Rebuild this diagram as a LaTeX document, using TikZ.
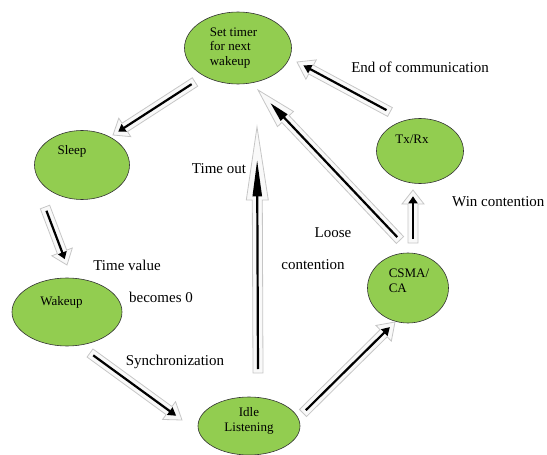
\documentclass[tikz,border=0pt]{standalone}
\usepackage{fontspec}
\setmainfont{Liberation Serif}
\usepackage{tikz}
\usetikzlibrary{shapes.geometric,arrows.meta,calc}
\definecolor{stategreen}{RGB}{146,205,80}
\newcommand{\statefont}{\fontsize{13}{14.5}\selectfont}
\newcommand{\notefont}{\fontsize{15}{18}\selectfont}
% hollow block arrow with a black arrow inside, #1 = head length
\newcommand{\blockarrow}[3][14]{%
  \coordinate (bs) at (#2);
  \coordinate (be) at (#3);
  \coordinate (hb) at ($(be)!#1pt!(bs)$);
  \filldraw[blockbody] ($(bs)!5pt!90:(be)$) -- ($(hb)!5pt!90:(be)$) -- ($(hb)!11pt!90:(be)$)
    -- (be) -- ($(hb)!11pt!-90:(be)$) -- ($(hb)!5pt!-90:(be)$) -- ($(bs)!5pt!-90:(be)$) -- cycle;
  \pgfmathsetlengthmacro\tiplen{0.5*#1pt}
  \pgfmathsetlengthmacro\tipback{0.45*#1pt}
  \draw[blockcore,-{Triangle[length=\tiplen,width=9pt]}] ($(bs)!4pt!(be)$) -- ($(be)!\tipback!(bs)$);
}

\begin{document}
\begin{tikzpicture}[x=1pt,y=-1pt,
  state/.style={ellipse,draw=black!80,fill=stategreen,line width=0.6pt,inner sep=0pt},
  tag/.style={font=\statefont,align=left,inner sep=0pt},
  note/.style={font=\notefont,inner sep=0pt},
  blockbody/.style={fill=gray!5,draw=gray!45,line width=0.8pt},
  blockcore/.style={line width=2.2pt,black}]
\useasboundingbox (0,0) rectangle (547,455);

% states
\node[state,minimum width=107pt,minimum height=72pt,
  label={[tag,xshift=-4.5pt]center:{Set timer\\for next\\wakeup}}] (set) at (238,48) {};
\node[state,minimum width=95pt,minimum height=69pt,
  label={[tag,xshift=-10pt,yshift=14pt]center:Sleep}] (sleep) at (82,165) {};
\node[state,minimum width=110pt,minimum height=68pt,
  label={[tag,xshift=-5.5pt,yshift=10pt]center:Wakeup}] (wakeup) at (67,312) {};
\node[state,minimum width=102pt,minimum height=58pt,
  label={[tag,align=center,yshift=5pt]center:{Idle\\Listening}}] (idle) at (249,426) {};
\node[state,minimum width=81pt,minimum height=70pt,
  label={[tag,xshift=1pt,yshift=7pt]center:{CSMA/\\CA}}] (csma) at (408,288) {};
\node[state,minimum width=87pt,minimum height=65pt,
  label={[tag,xshift=-8pt,yshift=12pt]center:Tx/Rx}] (tx) at (420,151) {};

% transitions
\blockarrow[14]{$(set)+(-43,34)$}{$(sleep)+(31,-30)$}
\blockarrow[14]{$(sleep)+(-37,42)$}{$(wakeup)+(0,-47)$}
\blockarrow[16]{$(wakeup)+(23,41)$}{$(idle)+(-67,-6)$}
\blockarrow[16]{$(idle)+(54,-13)$}{$(csma)+(-13,34)$}
\blockarrow[14]{$(csma)+(5,-45)$}{$(tx)+(-7,39)$}
\blockarrow[16]{$(tx)+(-30,-39)$}{$(set)+(59,14)$}
\blockarrow[40]{$(csma)+(-8,-48)$}{$(set)+(20,42)$}
\blockarrow[73]{$(idle)+(9,-53)$}{$(set)+(19,79)$}

% labels
\node[note] (endcomm) at (420,67) {End of communication};
\node[note] (timeout) at (219,169) {Time out};
\node[note,anchor=west] (win) at (452,202) {Win contention};
\node[note] (loose) at (333,233) {Loose};
\node[note] (contention) at (313,265) {contention};
\node[note] (timevalue) at (127,265) {Time value};
\node[note] (becomes) at (161,297) {becomes 0};
\node[note] (sync) at (175,362) {Synchronization};
\end{tikzpicture}
\end{document}
